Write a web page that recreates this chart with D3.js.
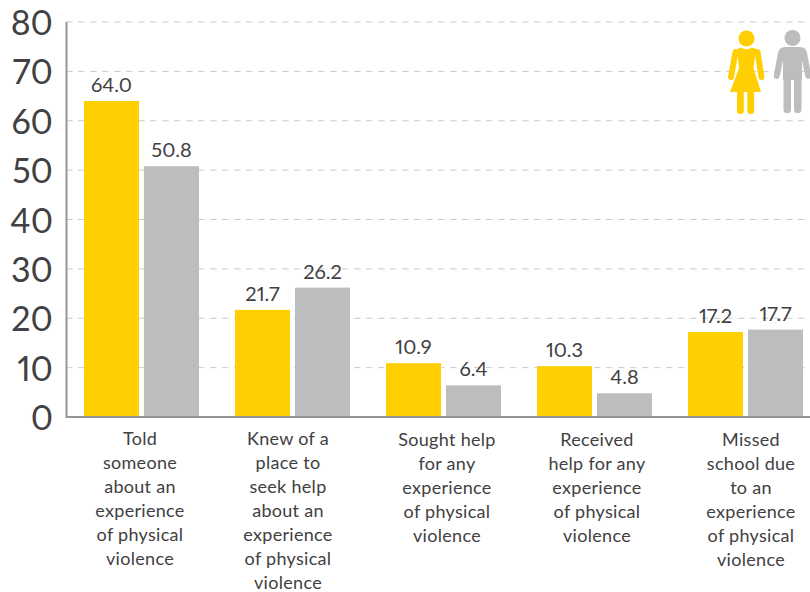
<!DOCTYPE html>
<html><head><meta charset="utf-8">
<script src="https://cdn.jsdelivr.net/npm/d3@7/dist/d3.min.js"></script>
<style>html,body{margin:0;padding:0;background:#fff}svg{display:block}text{font-family:Lato,"Open Sans",sans-serif;fill:#414042;font-variant-numeric:proportional-nums}</style>
</head><body><svg id="c" width="810" height="592"></svg>
<script>
const categories=[
 ["Told","someone","about an","experience","of physical","violence"],
 ["Knew of a","place to","seek help","about an","experience","of physical","violence"],
 ["Sought help","for any","experience","of physical","violence"],
 ["Received","help for any","experience","of physical","violence"],
 ["Missed","school due","to an","experience","of physical","violence"]];
const female=[64.0,21.7,10.9,10.3,17.2];
const male=[50.8,26.2,6.4,4.8,17.7];
const yTicks=[0,10,20,30,40,50,60,70,80];
const seriesColors=["#FFCF01","#BCBDBF"];

const svg=d3.select("#c");
const y=d3.scaleLinear().domain([0,80]).range([417,22]);
const x0=d3.scaleBand().domain(d3.range(categories.length)).range([66,821]).paddingInner(0).paddingOuter(0);
const x1=d3.scaleBand().domain([0,1]).range([18,133]).paddingInner(5/60).paddingOuter(0);

svg.append("g").selectAll("line").data(yTicks.slice(1)).join("line")
 .attr("x1",66).attr("x2",810).attr("y1",d=>y(d)).attr("y2",d=>y(d))
 .attr("stroke","#c9cacb").attr("stroke-width",1).attr("stroke-dasharray","6.5 5.5");

const groups=svg.append("g").selectAll("g").data(categories).join("g")
 .attr("transform",(d,i)=>`translate(${x0(i)},0)`);
[female,male].forEach((vals,s)=>{
 groups.append("rect").attr("x",x1(s)).attr("width",x1.bandwidth())
  .attr("y",(d,i)=>y(vals[i])).attr("height",(d,i)=>y(0)-y(vals[i])).attr("fill",seriesColors[s]);
 groups.append("text").attr("x",x1(s)+x1.bandwidth()/2).attr("y",(d,i)=>y(vals[i])-9)
  .attr("text-anchor","middle").attr("font-size",20).text((d,i)=>vals[i].toFixed(1));
});

svg.append("path").attr("d","M66.5,22V417H810").attr("fill","none").attr("stroke","#939598").attr("stroke-width",2);
svg.append("g").selectAll("text").data(yTicks).join("text")
 .attr("x",53).attr("y",d=>y(d)+13).attr("text-anchor","end").attr("font-size",34).text(d=>d);

groups.each(function(lines,i){
 const t=d3.select(this).append("text").attr("text-anchor","middle").attr("font-size",18).attr("letter-spacing",0.3);
 const cx=[74,71,79,78,81][i];
 const top=i===0?445:(i===1?445:446);
 lines.forEach((l,k)=>t.append("tspan").attr("x",cx).attr("y",top+k*24).text(l));
});

const woman=svg.append("g").attr("fill",seriesColors[0]);
woman.append("circle").attr("cx",746.5).attr("cy",38.5).attr("r",8);
woman.append("path").attr("d","M737,49 L741,47.5 Q746.5,51 752,47.5 L756,49 L753.5,68 L761,92 H730 L739,68 Z");
woman.append("path").attr("d","M735.5,52 L731,77 M757.5,52 L761.5,77").attr("fill","none").attr("stroke",seriesColors[0]).attr("stroke-width",6).attr("stroke-linecap","round");
woman.append("rect").attr("x",737).attr("y",90).attr("width",6.8).attr("height",24).attr("rx",3.2);
woman.append("rect").attr("x",747.3).attr("y",90).attr("width",6.8).attr("height",24).attr("rx",3.2);
const man=svg.append("g").attr("fill",seriesColors[1]);
man.append("circle").attr("cx",792.5).attr("cy",38).attr("r",8);
man.append("path").attr("d","M785,47 H800 Q806,47 807,53 L811,74 Q812,79 808,79 Q806,79 805,75 L802,60 V80 H783 V60 L780,75 Q779,79 777,79 Q773,79 774,74 L778,53 Q779,47 785,47 Z");
man.append("rect").attr("x",783.5).attr("y",76).attr("width",7.5).attr("height",37).attr("rx",3.6);
man.append("rect").attr("x",794).attr("y",76).attr("width",7.5).attr("height",37).attr("rx",3.6);
</script></body></html>
